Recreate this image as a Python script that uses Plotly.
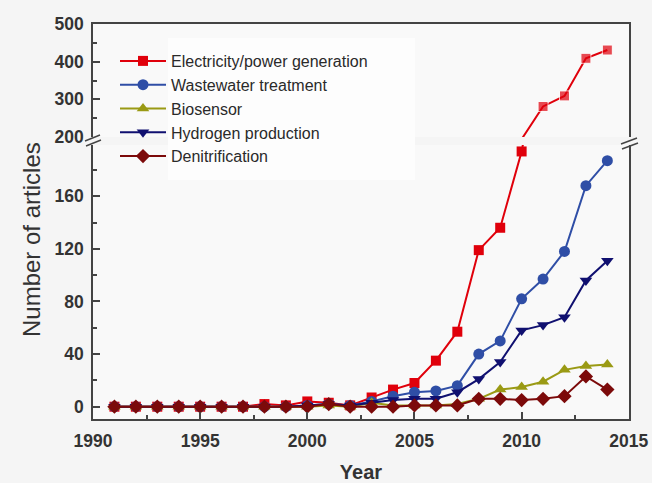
import plotly.graph_objects as go

# Publication counts per year for each application area
years = list(range(1991, 2015))

electricity = [0, 0, 0, 0, 0, 0, 0, 2, 1, 4, 3, 1, 7, 13, 18, 35, 57, 119, 136, 194, 281, 309, 409, 431]
wastewater = [0, 0, 0, 0, 0, 0, 0, 0, 0, 1, 2, 1, 4, 8, 11, 12, 16, 40, 50, 82, 97, 118, 168, 187]
biosensor = [0, 0, 0, 0, 0, 0, 0, 0, 0, 0, 1, 0, 3, 1, 1, 1, 2, 6, 13, 15, 19, 28, 31, 32]
hydrogen = [0, 0, 0, 0, 0, 0, 0, 0, 0, 1, 2, 1, 3, 5, 6, 6, 11, 21, 34, 58, 62, 68, 96, 111]
denitrification = [0, 0, 0, 0, 0, 0, 0, 0, 0, 0, 2, 0, 0, 0, 1, 1, 1, 6, 6, 5, 6, 8, 23, 13]

series_names = ["Electricity/power generation", "Wastewater treatment", "Biosensor",
                "Hydrogen production", "Denitrification"]
series_values = [electricity, wastewater, biosensor, hydrogen, denitrification]
series_colors = ["#e0000b", "#2f4ea6", "#9a9a14", "#101070", "#7c0a0a"]
series_symbols = ["square", "circle", "triangle-up", "triangle-down", "diamond"]
series_sizes = [10, 11, 11, 11, 11]

# Broken y axis: lower panel and upper panel value ranges
LOWER_RANGE = [-9.35, 198.9]
UPPER_RANGE = [199.8, 500.2]

# Figure size and plot-area placement (pixels)
W, H = 652, 483
L, T = 93, 24
PLOT_RIGHT, PLOT_BOTTOM = 629, 419
R, B = W - PLOT_RIGHT, H - PLOT_BOTTOM
plot_w = PLOT_RIGHT - L
plot_h = PLOT_BOTTOM - T

def py(y_px):
    return (PLOT_BOTTOM - y_px) / plot_h

def px(x_px):
    return (x_px - L) / plot_w

upper_domain = [py(137), 1.0]
lower_domain = [0.0, py(145)]

fig = go.Figure()

for name, vals, col, sym, size in zip(series_names, series_values, series_colors,
                                      series_symbols, series_sizes):
    # lower panel: full series
    fig.add_trace(go.Scatter(
        x=years, y=vals, name=name, mode="lines+markers",
        line=dict(color=col, width=2),
        marker=dict(symbol=sym, size=size, color=col),
        xaxis="x", yaxis="y", showlegend=True, legendgroup=name,
    ))
    # upper panel: markers only for points that fall inside its range
    upper_sizes = [size if v >= UPPER_RANGE[0] else 0 for v in vals]
    fig.add_trace(go.Scatter(
        x=years, y=vals, name=name, mode="lines+markers",
        line=dict(color=col, width=2),
        marker=dict(symbol=sym, size=upper_sizes, color=col),
        xaxis="x2", yaxis="y2", showlegend=False, legendgroup=name,
    ))

tick_font = dict(family="Liberation Sans, Arial, sans-serif", size=17.5, color="#333333", weight="bold")
axis_col = "#444444"

fig.update_layout(
    width=W, height=H, autosize=False,
    margin=dict(l=L, r=R, t=T, b=B, autoexpand=False),
    paper_bgcolor="#f5f5f5",
    plot_bgcolor="#f9f9f9",
    font=dict(family="Liberation Sans, Arial, sans-serif", color="#333333"),
    showlegend=True,
    legend=dict(
        x=px(115), y=py(44), xanchor="left", yanchor="top",
        bgcolor="rgba(0,0,0,0)", borderwidth=0,
        font=dict(size=16, color="#2a2a2a"),
        tracegroupgap=0, itemwidth=46,
    ),
    xaxis=dict(
        domain=[0, 1], anchor="y", range=[1990, 2015.01], automargin=False,
        tick0=1990, dtick=5, ticks="inside", ticklen=7, tickwidth=1.5, tickcolor=axis_col,
        minor=dict(dtick=2.5, ticks="inside", ticklen=4, tickcolor=axis_col, tickwidth=1.5),
        showline=True, linecolor=axis_col, linewidth=1.5, mirror=False,
        showgrid=False, zeroline=False,
        tickfont=tick_font, ticklabelstandoff=5,
        title=dict(text="Year", font=dict(size=20, color="#333333", weight="bold"), standoff=15),
    ),
    xaxis2=dict(
        domain=[0, 1], anchor="y2", matches="x", range=[1990, 2015.01], side="top",
        automargin=False,
        showticklabels=False, ticks="", showline=True, linecolor=axis_col, linewidth=1.5,
        showgrid=False, zeroline=False,
    ),
    yaxis=dict(
        domain=lower_domain, anchor="x", range=LOWER_RANGE, automargin=False,
        tick0=0, dtick=40, ticks="inside", ticklen=7, tickwidth=1.5, tickcolor=axis_col,
        minor=dict(dtick=20, ticks="inside", ticklen=4, tickcolor=axis_col, tickwidth=1.5),
        showline=True, linecolor=axis_col, linewidth=1.5, mirror=True,
        showgrid=False, zeroline=False,
        tickfont=tick_font, ticklabelstandoff=4,
    ),
    yaxis2=dict(
        domain=upper_domain, anchor="x2", range=UPPER_RANGE, automargin=False,
        tick0=200, dtick=100, ticks="inside", ticklen=7, tickwidth=1.5, tickcolor=axis_col,
        minor=dict(dtick=50, ticks="inside", ticklen=4, tickcolor=axis_col, tickwidth=1.5),
        showline=True, linecolor=axis_col, linewidth=1.5, mirror=True,
        showgrid=False, zeroline=False,
        tickfont=tick_font, ticklabelstandoff=4,
    ),
)

# Faint backing panel behind the legend labels
fig.add_shape(type="rect", xref="paper", yref="paper", layer="below",
              x0=px(168), x1=px(415), y0=py(180), y1=py(38),
              fillcolor="#fdfdfd", line=dict(width=0))

# Shared y-axis title spanning both panels
fig.add_annotation(
    text="Number of articles", textangle=-90,
    xref="paper", yref="paper", x=px(31), y=py(240),
    xanchor="center", yanchor="middle",
    showarrow=False, font=dict(size=24, color="#333333"),
)

# Break marks on the left and right frame edges
breaks = [
    ((85, 141), (100, 135)), ((86, 146), (101, 140)),
    ((621, 144), (637, 138)), ((622, 149), (638, 143)),
]
for (x0, y0), (x1, y1) in breaks:
    fig.add_shape(type="line", xref="paper", yref="paper",
                  x0=px(x0), y0=py(y0), x1=px(x1), y1=py(y1),
                  line=dict(color=axis_col, width=1.5))

fig.write_html("out.html", config={"responsive": False})
